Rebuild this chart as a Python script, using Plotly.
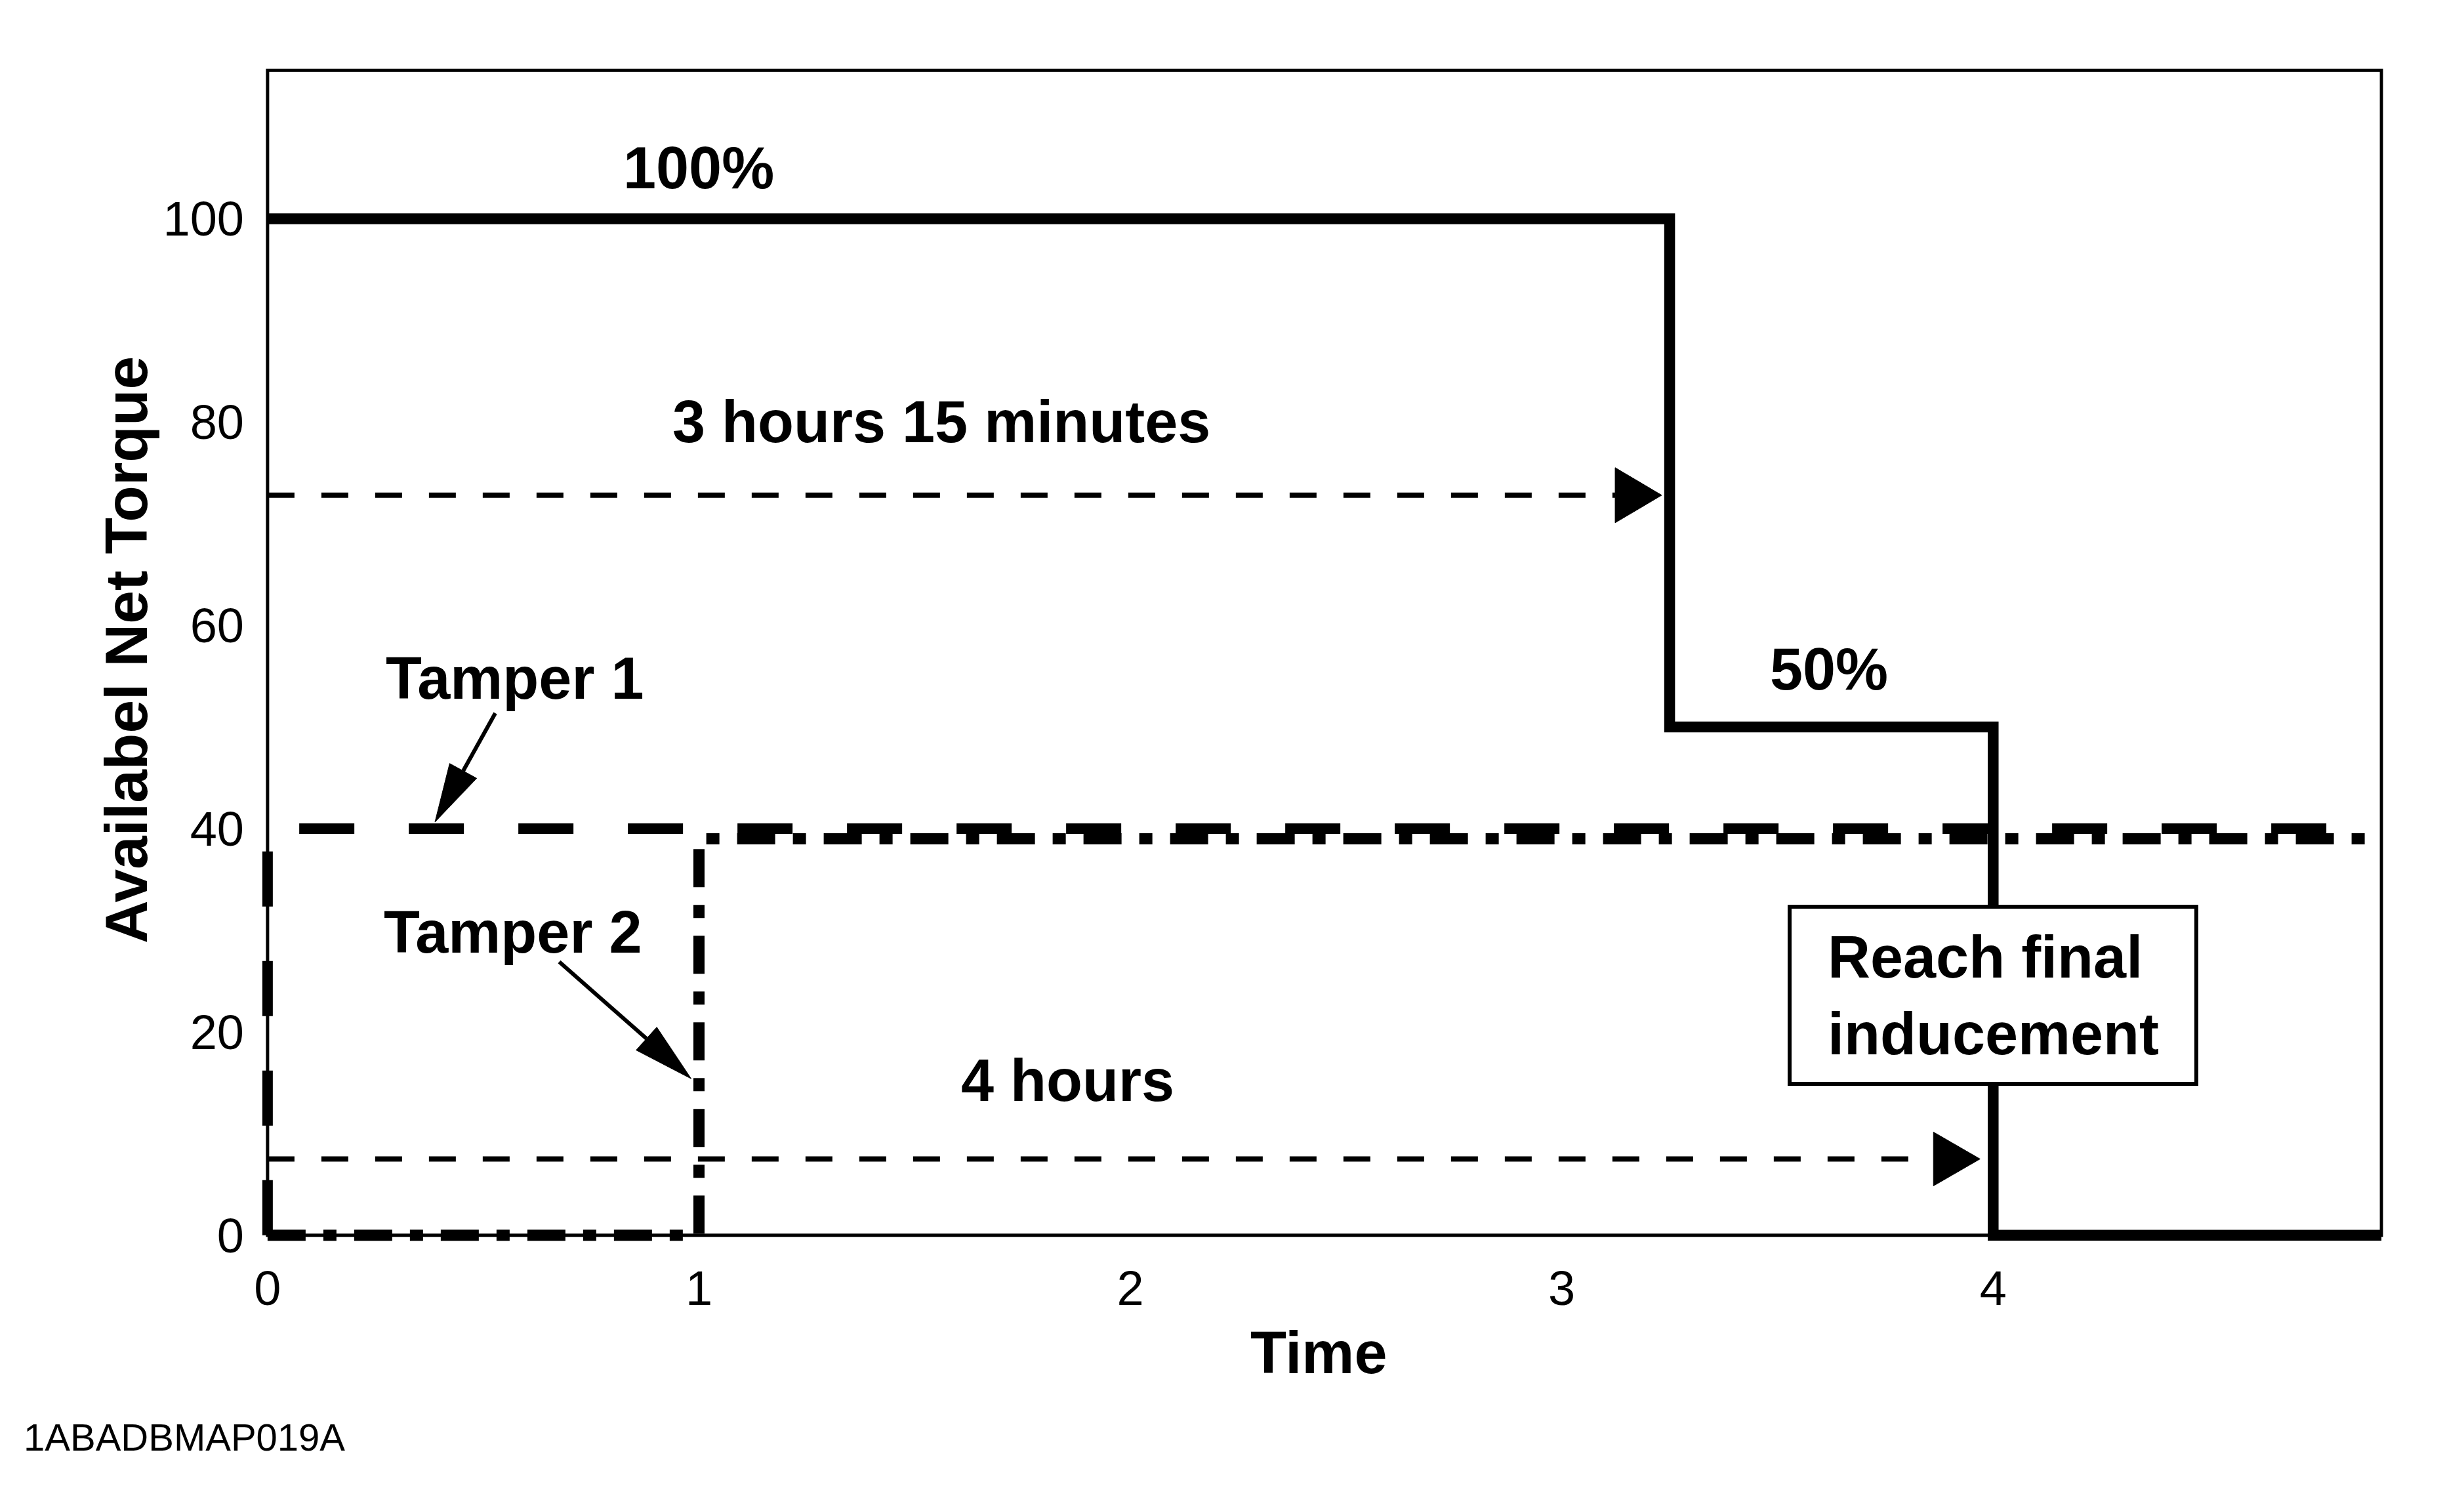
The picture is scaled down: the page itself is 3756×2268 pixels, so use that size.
import plotly.graph_objects as go

# ---------------- data ----------------
x_ticks = [0, 1, 2, 3, 4]
y_ticks = [0, 20, 40, 60, 80, 100]

# available net torque (solid step line)
main_x = [0, 3.25, 4, 4.9]
main_y = [100, 50, 0, 0]

# Tamper 1 (long dashes): up at t=0 to 40
tamper1_x = [0, 4.9]
tamper1_y = [0, 40]

# Tamper 2 (dash-dot): 0 until t=1, then 39
tamper2_x = [0, 1, 4.9]
tamper2_y = [0, 39, 39]

# duration arrows
duration_labels = ["3 hours 15 minutes", "4 hours"]
duration_end_x = [3.25, 4.0]
duration_arrow_y = [72.8, 7.5]
duration_label_x = [1.562, 1.855]
duration_label_y = [80.0, 15.2]

# level labels
level_labels = ["100%", "50%"]
level_label_x = [1.0, 3.62]
level_label_y = [105.0, 55.7]

# tamper labels and arrow tips
tamper_labels = ["Tamper 1", "Tamper 2"]
tamper_label_x = [0.573, 0.569]
tamper_label_y = [54.8, 29.8]
tamper_tip_x = [0.388, 1.0]
tamper_tip_y = [40.0, 15.4]

box_text = "Reach final<br>inducement"
box_x = 4.0
box_y = 23.6

x_title = "Time"
y_title = "Availabel Net Torque"
footer = "1ABADBMAP019A"

X_MAX = 4.9
Y_MAX = 114.6

# ---------------- layout geometry ----------------
W, H = 3756, 2268
X0PX, PXX = 408.0, 657.5
XLO, XHI = -0.015, 4.915
Y0PX, PXY = 1883.0, 15.5
YLO, YHI = -0.6, 115.0

L = X0PX + XLO * PXX
R = X0PX + XHI * PXX
B = Y0PX - YLO * PXY
T = Y0PX - YHI * PXY
PW, PH = R - L, B - T


def px2paper_x(px):
    return (px - L) / PW


def px2paper_y(py):
    return 1 - (py - T) / PH


FONT = "Liberation Sans, Arial, Helvetica, sans-serif"

fig = go.Figure()

fig.add_trace(go.Scatter(x=main_x, y=main_y, mode="lines", line_shape="hv",
                         line=dict(color="black", width=16.5), hoverinfo="skip"))
fig.add_trace(go.Scatter(x=tamper1_x, y=tamper1_y, mode="lines", line_shape="vh",
                         line=dict(color="black", width=16, dash="84px,83px"), hoverinfo="skip"))
fig.add_trace(go.Scatter(x=tamper2_x, y=tamper2_y, mode="lines", line_shape="hv",
                         line=dict(color="black", width=17, dash="58px,27px,20px,27px"), hoverinfo="skip"))

shapes = []
# frame
shapes.append(dict(type="rect", xref="x", yref="y", x0=0, y0=0, x1=X_MAX, y1=Y_MAX,
                   line=dict(color="black", width=5), layer="below"))


def head_path(tip, base, half_w):
    tx, ty = tip
    bx, by = base
    dx, dy = tx - bx, ty - by
    ln = (dx * dx + dy * dy) ** 0.5
    nx, ny = -dy / ln, dx / ln
    pts = [(tx, ty), (bx + nx * half_w, by + ny * half_w), (bx - nx * half_w, by - ny * half_w)]
    return "M " + " L ".join(f"{x:.1f},{-y:.1f}" for x, y in pts) + " Z"


# duration arrows: dashed shaft + triangular head (pixel geometry)
dur_tip_off = [-12, -20]
dur_head_len = 71
dur_head_half = [42, 41]
for i in range(len(duration_labels)):
    base_off = dur_tip_off[i] - dur_head_len
    x_end = duration_end_x[i] + base_off / PXX
    fig.add_trace(go.Scatter(x=[0, x_end], y=[duration_arrow_y[i]] * 2, mode="lines",
                             line=dict(color="black", width=8, dash="41px,41px"), hoverinfo="skip"))
    shapes.append(dict(type="path", xref="x", yref="y", xsizemode="pixel", ysizemode="pixel",
                       xanchor=duration_end_x[i], yanchor=duration_arrow_y[i],
                       path=head_path((dur_tip_off[i], 0), (base_off, 0), dur_head_half[i]),
                       fillcolor="black", line=dict(color="black", width=1), layer="above"))

# tamper arrows (screen px offsets, y down, relative to tip anchor)
tam_tip = [(0, -10), (-12, 0)]
tam_base = [(43, -88), (-80, -61)]
tam_start = [(92, -176), (-213, -178)]
for i in range(len(tamper_labels)):
    shapes.append(dict(type="line", xref="x", yref="y", xsizemode="pixel", ysizemode="pixel",
                       xanchor=tamper_tip_x[i], yanchor=tamper_tip_y[i],
                       x0=tam_start[i][0], y0=-tam_start[i][1],
                       x1=tam_base[i][0], y1=-tam_base[i][1],
                       line=dict(color="black", width=6), layer="above"))
    shapes.append(dict(type="path", xref="x", yref="y", xsizemode="pixel", ysizemode="pixel",
                       xanchor=tamper_tip_x[i], yanchor=tamper_tip_y[i],
                       path=head_path(tam_tip[i], tam_base[i], 23.5),
                       fillcolor="black", line=dict(color="black", width=1), layer="above"))

bold = dict(family=FONT, size=90, color="black", weight="bold")
ann = []
for t, x, y in zip(level_labels, level_label_x, level_label_y):
    ann.append(dict(text=t, x=x, y=y, xref="x", yref="y", showarrow=False, font=bold,
                    xanchor="center", yanchor="middle"))
for t, x, y in zip(duration_labels, duration_label_x, duration_label_y):
    ann.append(dict(text=t, x=x, y=y, xref="x", yref="y", showarrow=False, font=bold,
                    xanchor="center", yanchor="middle"))
for t, x, y in zip(tamper_labels, tamper_label_x, tamper_label_y):
    ann.append(dict(text=t, x=x, y=y, xref="x", yref="y", showarrow=False, font=bold,
                    xanchor="center", yanchor="middle"))
# box
ann.append(dict(text=" ", x=box_x, y=box_y, xref="x", yref="y", showarrow=False,
                width=614, height=264, borderwidth=6, borderpad=0, bordercolor="black",
                bgcolor="white", font=dict(family=FONT, size=10)))
ann.append(dict(text=box_text, x=box_x, y=box_y, xref="x", yref="y", showarrow=False,
                align="left", font=bold, xanchor="center", yanchor="middle"))
# axis titles
ann.append(dict(text=x_title, x=px2paper_x(2010), y=px2paper_y(2062), xref="paper", yref="paper",
                showarrow=False, font=bold, xanchor="center", yanchor="middle"))
ann.append(dict(text=y_title, x=px2paper_x(192), y=px2paper_y(990), xref="paper", yref="paper",
                showarrow=False, font=dict(family=FONT, size=91, color="black", weight="bold"),
                textangle=-90, xanchor="center", yanchor="middle"))
ann.append(dict(text=footer, x=px2paper_x(34), y=px2paper_y(2191), xref="paper", yref="paper",
                showarrow=False, font=dict(family=FONT, size=58, color="black"),
                xanchor="left", yanchor="middle"))

tickfont = dict(family=FONT, size=74, color="black")
fig.update_layout(
    width=W, height=H,
    margin=dict(l=L, r=W - R, t=T, b=H - B, pad=0),
    paper_bgcolor="white", plot_bgcolor="white",
    showlegend=False,
    shapes=shapes, annotations=ann,
    xaxis=dict(range=[XLO, XHI], tickvals=x_ticks, ticktext=[str(v) for v in x_ticks],
               showgrid=False, zeroline=False, showline=False, ticks="",
               tickfont=tickfont, ticklabelstandoff=22),
    yaxis=dict(range=[YLO, YHI], tickvals=y_ticks, ticktext=[str(v) for v in y_ticks],
               showgrid=False, zeroline=False, showline=False, ticks="",
               tickfont=tickfont, ticklabelstandoff=25),
)

fig.write_html("out.html", config={"displayModeBar": False},
               post_script="document.body.style.margin='0';document.body.style.overflow='hidden';")
